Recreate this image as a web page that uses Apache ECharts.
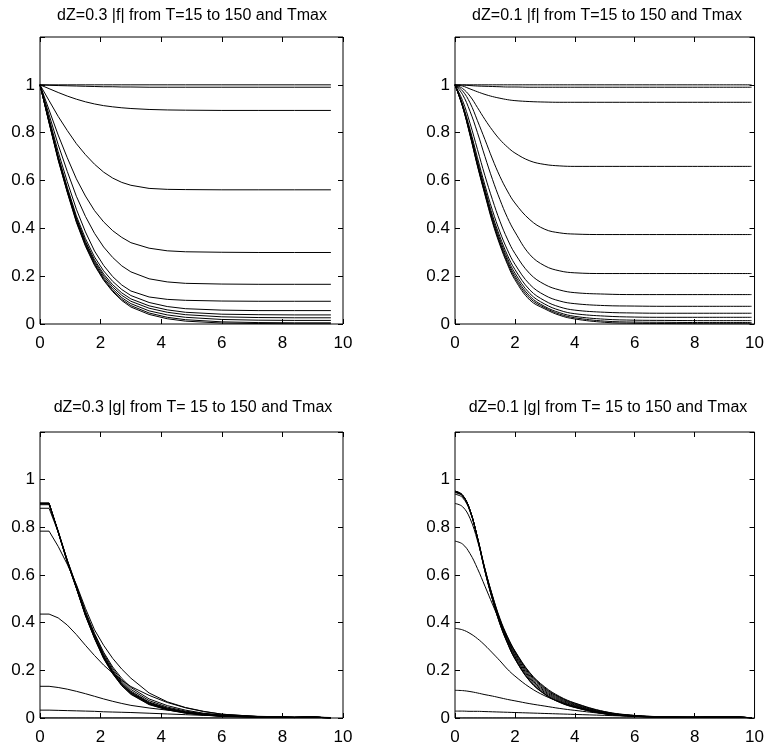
<!DOCTYPE html>
<html>
<head>
<meta charset="utf-8">
<script src="https://cdn.jsdelivr.net/npm/echarts@6/dist/echarts.min.js"></script>
<style>html,body{margin:0;padding:0;background:#fff;}#c{width:767px;height:746px;}</style>
</head>
<body>
<div id="c"></div>
<script>
// ---------- titles ----------
const titles = [
  'dZ=0.3 |f| from T=15 to 150 and Tmax',
  'dZ=0.1 |f| from T=15 to 150 and Tmax',
  'dZ=0.3 |g| from T= 15 to 150 and Tmax',
  'dZ=0.1 |g| from T= 15 to 150 and Tmax'
];
const xTicks = [0, 2, 4, 6, 8, 10];
const yTicks = [0, 0.2, 0.4, 0.6, 0.8, 1];

// ---------- top-left: dZ=0.3 |f| ----------
const xF03 = [0,0.3,0.6,0.9,1.2,1.5,1.8,2.1,2.4,2.7,3.0,3.6,4.2,4.8,6.0,7.2,8.4,9.6];
const fA1 = [1,1,1,1,1,1,1,1,1,1,1,1,1,1,1,1,1,1];
const fB1 = [1,0.998,0.997,0.996,0.995,0.994,0.993,0.992,0.992,0.991,0.991,0.990,0.990,0.990,0.990,0.990,0.990,0.990];
const fC1 = [1,0.984,0.968,0.953,0.940,0.929,0.920,0.913,0.908,0.904,0.901,0.897,0.895,0.894,0.893,0.893,0.893,0.893];
const fD1 = [1,0.934,0.868,0.809,0.754,0.708,0.668,0.635,0.610,0.592,0.580,0.567,0.563,0.562,0.561,0.561,0.561,0.561];
const fE1 = [1,0.895,0.790,0.695,0.607,0.535,0.474,0.427,0.390,0.362,0.340,0.317,0.306,0.302,0.300,0.299,0.299,0.299];
const fF1 = [1,0.875,0.750,0.638,0.534,0.450,0.379,0.322,0.278,0.243,0.218,0.189,0.176,0.170,0.167,0.166,0.166,0.166];
const fG1 = [1,0.860,0.720,0.595,0.480,0.385,0.305,0.245,0.198,0.163,0.138,0.113,0.103,0.099,0.096,0.095,0.095,0.095];
const fH1 = [1,0.852,0.703,0.572,0.452,0.357,0.280,0.222,0.178,0.144,0.119,0.090,0.073,0.064,0.058,0.056,0.056,0.056];
const fI1 = [1,0.848,0.697,0.564,0.443,0.346,0.268,0.209,0.164,0.130,0.105,0.076,0.059,0.049,0.041,0.039,0.038,0.038];
const fJ1 = [1,0.846,0.694,0.560,0.438,0.340,0.261,0.201,0.155,0.120,0.095,0.066,0.049,0.039,0.030,0.027,0.026,0.026];
const fK1 = [1,0.844,0.691,0.556,0.433,0.334,0.254,0.193,0.146,0.110,0.085,0.055,0.038,0.028,0.019,0.016,0.015,0.015];
const fL1 = [1,0.842,0.688,0.553,0.429,0.329,0.249,0.187,0.139,0.103,0.077,0.046,0.028,0.018,0.009,0.006,0.005,0.005];
const fM1 = [1,0.840,0.685,0.550,0.425,0.325,0.245,0.183,0.135,0.098,0.071,0.040,0.022,0.012,0.004,0.002,0.001,0.001];

// ---------- top-right: dZ=0.1 |f| ----------
const xF01 = [0,0.25,0.5,0.75,1,1.25,1.5,1.75,2,2.5,3,3.5,4,5,6,7,8.5,9.9];
const fA2 = [1,1,1,1,1,1,1,1,1,1,1,1,1,1,1,1,1,1];
const fB2 = [1,0.999,0.997,0.995,0.994,0.993,0.992,0.991,0.991,0.990,0.990,0.990,0.990,0.990,0.990,0.990,0.990,0.990];
const fC2 = [1,0.995,0.983,0.971,0.960,0.951,0.944,0.938,0.934,0.930,0.928,0.927,0.927,0.927,0.927,0.927,0.927,0.927];
const fD2 = [1,0.985,0.953,0.905,0.855,0.810,0.771,0.740,0.715,0.682,0.667,0.661,0.659,0.659,0.659,0.659,0.659,0.659];
const fE2 = [1,0.975,0.925,0.850,0.771,0.690,0.617,0.556,0.506,0.436,0.396,0.381,0.376,0.374,0.374,0.374,0.374,0.374];
const fF2 = [1,0.960,0.890,0.800,0.700,0.605,0.520,0.445,0.385,0.290,0.243,0.222,0.214,0.211,0.211,0.211,0.211,0.211];
const fG2 = [1,0.935,0.840,0.730,0.620,0.520,0.430,0.355,0.295,0.210,0.165,0.142,0.131,0.125,0.123,0.123,0.123,0.123];
const fH2 = [1,0.920,0.815,0.695,0.580,0.475,0.385,0.310,0.250,0.165,0.120,0.096,0.085,0.077,0.075,0.074,0.074,0.074];
const fI2 = [1,0.915,0.805,0.680,0.565,0.455,0.365,0.288,0.228,0.142,0.097,0.071,0.058,0.049,0.046,0.045,0.045,0.045];
const fJ2 = [1,0.913,0.800,0.673,0.555,0.445,0.353,0.275,0.213,0.127,0.083,0.057,0.043,0.033,0.029,0.028,0.028,0.028];
const fK2 = [1,0.912,0.795,0.667,0.548,0.437,0.343,0.265,0.202,0.116,0.073,0.047,0.032,0.020,0.016,0.015,0.014,0.014];
const fL2 = [1,0.911,0.792,0.663,0.544,0.431,0.336,0.257,0.193,0.108,0.068,0.041,0.026,0.012,0.008,0.007,0.006,0.006];
const fM2 = [1,0.910,0.790,0.660,0.540,0.425,0.330,0.250,0.185,0.100,0.063,0.036,0.021,0.007,0.003,0.002,0.001,0.001];

// ---------- bottom-left: dZ=0.3 |g| ----------
const xG03 = [0,0.3,0.6,0.9,1.2,1.5,1.8,2.1,2.4,2.7,3.0,3.6,4.2,4.8,5.4,6.0,7.2,8.4,9.0,9.6];
const gA1 = [0,0,0,0,0,0,0,0,0,0,0,0,0,0,0,0,0,0,0,0];
const gB1 = [0.033,0.033,0.032,0.031,0.030,0.029,0.028,0.026,0.025,0.024,0.023,0.020,0.017,0.014,0.011,0.009,0.006,0.004,0.004,0.002];
const gC1 = [0.133,0.133,0.128,0.121,0.112,0.102,0.091,0.080,0.070,0.061,0.053,0.042,0.033,0.025,0.018,0.013,0.007,0.004,0.004,0.001];
const gD1 = [0.436,0.436,0.420,0.390,0.350,0.305,0.262,0.222,0.188,0.158,0.132,0.095,0.065,0.043,0.027,0.016,0.006,0.003,0.004,0.001];
const gE1 = [0.784,0.784,0.720,0.645,0.560,0.460,0.370,0.305,0.250,0.205,0.167,0.105,0.068,0.044,0.028,0.016,0.006,0.003,0.004,0.000];
const gF1 = [0.880,0.880,0.780,0.663,0.556,0.448,0.355,0.276,0.214,0.166,0.128,0.080,0.052,0.033,0.020,0.012,0.005,0.002,0.004,0.000];
const gG1 = [0.895,0.895,0.785,0.662,0.553,0.442,0.350,0.270,0.207,0.158,0.120,0.073,0.046,0.029,0.018,0.010,0.005,0.002,0.004,0.000];
const gH1 = [0.898,0.898,0.783,0.660,0.550,0.438,0.345,0.264,0.200,0.150,0.113,0.067,0.042,0.026,0.016,0.009,0.004,0.002,0.004,0.000];
const gI1 = [0.900,0.900,0.782,0.658,0.548,0.435,0.341,0.259,0.195,0.145,0.109,0.064,0.040,0.024,0.015,0.008,0.004,0.002,0.004,0.000];
const gJ1 = [0.900,0.900,0.781,0.657,0.547,0.433,0.339,0.256,0.192,0.142,0.106,0.062,0.038,0.023,0.014,0.008,0.004,0.002,0.004,0.000];
const gK1 = [0.901,0.901,0.780,0.656,0.546,0.432,0.337,0.254,0.190,0.140,0.104,0.060,0.037,0.022,0.013,0.008,0.004,0.002,0.004,0.000];
const gL1 = [0.901,0.901,0.780,0.655,0.545,0.430,0.335,0.251,0.187,0.137,0.101,0.058,0.035,0.021,0.013,0.007,0.004,0.002,0.004,0.000];
const gM1 = [0.902,0.902,0.779,0.654,0.544,0.429,0.333,0.249,0.185,0.135,0.099,0.056,0.034,0.020,0.012,0.007,0.003,0.002,0.004,0.000];

// ---------- bottom-right: dZ=0.1 |g| ----------
const xG01 = [0,0.25,0.5,0.75,1,1.25,1.5,1.75,2,2.5,3,3.5,4,5,6,7,8,9,9.9];
const gA2 = [0,0,0,0,0,0,0,0,0,0,0,0,0,0,0,0,0,0,0];
const gB2 = [0.029,0.029,0.028,0.028,0.027,0.026,0.025,0.024,0.023,0.021,0.019,0.017,0.015,0.011,0.007,0.004,0.003,0.004,0.001];
const gC2 = [0.116,0.115,0.111,0.105,0.098,0.092,0.085,0.078,0.072,0.060,0.050,0.040,0.032,0.018,0.009,0.004,0.003,0.004,0.001];
const gD2 = [0.376,0.370,0.355,0.333,0.305,0.273,0.240,0.205,0.176,0.128,0.093,0.068,0.048,0.021,0.009,0.004,0.003,0.004,0.001];
const gE2 = [0.742,0.730,0.690,0.627,0.553,0.478,0.405,0.340,0.282,0.190,0.130,0.090,0.063,0.027,0.011,0.005,0.003,0.005,0.001];
const gF2 = [0.900,0.887,0.838,0.744,0.624,0.514,0.418,0.342,0.280,0.187,0.126,0.087,0.061,0.026,0.010,0.005,0.003,0.005,0.001];
const gG2 = [0.939,0.925,0.867,0.757,0.626,0.512,0.414,0.338,0.276,0.182,0.122,0.084,0.058,0.024,0.010,0.005,0.003,0.005,0.001];
const gH2 = [0.946,0.931,0.871,0.758,0.624,0.509,0.410,0.333,0.270,0.176,0.117,0.080,0.055,0.023,0.009,0.004,0.003,0.005,0.001];
const gI2 = [0.948,0.933,0.872,0.757,0.622,0.506,0.406,0.328,0.264,0.170,0.112,0.076,0.052,0.021,0.008,0.004,0.003,0.005,0.001];
const gJ2 = [0.950,0.934,0.872,0.756,0.620,0.503,0.402,0.323,0.258,0.164,0.107,0.072,0.049,0.020,0.008,0.004,0.003,0.005,0.001];
const gK2 = [0.951,0.935,0.872,0.755,0.618,0.500,0.398,0.318,0.252,0.158,0.102,0.068,0.046,0.018,0.007,0.004,0.003,0.005,0.001];
const gL2 = [0.952,0.936,0.872,0.754,0.616,0.498,0.395,0.315,0.249,0.155,0.100,0.066,0.045,0.018,0.007,0.004,0.003,0.005,0.001];
const gM2 = [0.952,0.936,0.872,0.754,0.615,0.497,0.394,0.314,0.248,0.154,0.099,0.065,0.044,0.017,0.007,0.004,0.003,0.005,0.001];

// ---------- layout ----------
const FONT = 'Liberation Sans, Arial, Helvetica, sans-serif';
const panels = [
  { x: xF03, ys: [fA1,fB1,fC1,fD1,fE1,fF1,fG1,fH1,fI1,fJ1,fK1,fL1,fM1], smooth: false,
    grid: { left: 40, top: 37, width: 303, height: 287 }, titleX: 192, titleY: 16 },
  { x: xF01, ys: [fA2,fB2,fC2,fD2,fE2,fF2,fG2,fH2,fI2,fJ2,fK2,fL2,fM2], smooth: 0.4,
    grid: { left: 455, top: 37, width: 304, height: 287 }, titleX: 607, titleY: 16 },
  { x: xG03, ys: [gA1,gB1,gC1,gD1,gE1,gF1,gG1,gH1,gI1,gJ1,gK1,gL1,gM1], smooth: false,
    grid: { left: 40, top: 432, width: 303, height: 286 }, titleX: 193, titleY: 408 },
  { x: xG01, ys: [gA2,gB2,gC2,gD2,gE2,gF2,gG2,gH2,gI2,gJ2,gK2,gL2,gM2], smooth: 0.4,
    grid: { left: 455, top: 432, width: 304, height: 286 }, titleX: 608, titleY: 408 }
];

const grids = [], xAxes = [], yAxes = [], series = [], graphics = [];
const tick = { show: true, inside: true, length: 5, lineStyle: { color: '#000', width: 1 } };
const noLine = { show: false, onZero: false };
panels.forEach((p, i) => {
  grids.push(Object.assign({ show: true, borderColor: '#000', borderWidth: 1, backgroundColor: '#fff' }, p.grid));
  const xBase = { gridIndex: i, type: 'value', min: 0, max: 10, interval: 2,
    axisLine: noLine, splitLine: { show: false }, axisTick: tick };
  xAxes.push(Object.assign({}, xBase, { position: 'bottom',
    axisLabel: { show: true, color: '#000', fontSize: 17, fontFamily: FONT, margin: 11,
      formatter: v => xTicks.indexOf(v) >= 0 ? String(v) : '' } }));
  xAxes.push(Object.assign({}, xBase, { position: 'top', axisLabel: { show: false } }));
  const yBase = { gridIndex: i, type: 'value', min: 0, max: 1.2, interval: 0.2,
    axisLine: noLine, splitLine: { show: false }, axisTick: tick };
  yAxes.push(Object.assign({}, yBase, { position: 'left',
    axisLabel: { show: true, color: '#000', fontSize: 17, fontFamily: FONT, margin: 5,
      formatter: v => { const r = Math.round(v * 10) / 10; return yTicks.indexOf(r) >= 0 ? String(r) : ''; } } }));
  yAxes.push(Object.assign({}, yBase, { position: 'right', axisLabel: { show: false } }));
  p.ys.forEach(arr => {
    series.push({
      type: 'line', xAxisIndex: 2 * i, yAxisIndex: 2 * i,
      data: p.x.map((xv, k) => [xv, arr[k]]),
      showSymbol: false, symbol: 'none', smooth: p.smooth,
      lineStyle: { color: '#000', width: 1 }, silent: true, animation: false, z: 3
    });
  });
  graphics.push({ type: 'text', x: p.titleX, y: p.titleY,
    style: { text: titles[i], fill: '#000', font: '16px ' + FONT, textAlign: 'center', textVerticalAlign: 'middle' } });
});

const chart = echarts.init(document.getElementById('c'), null, { renderer: 'canvas' });
chart.setOption({
  animation: false,
  backgroundColor: '#fff',
  grid: grids, xAxis: xAxes, yAxis: yAxes, series: series, graphic: graphics
});
</script>
</body>
</html>
